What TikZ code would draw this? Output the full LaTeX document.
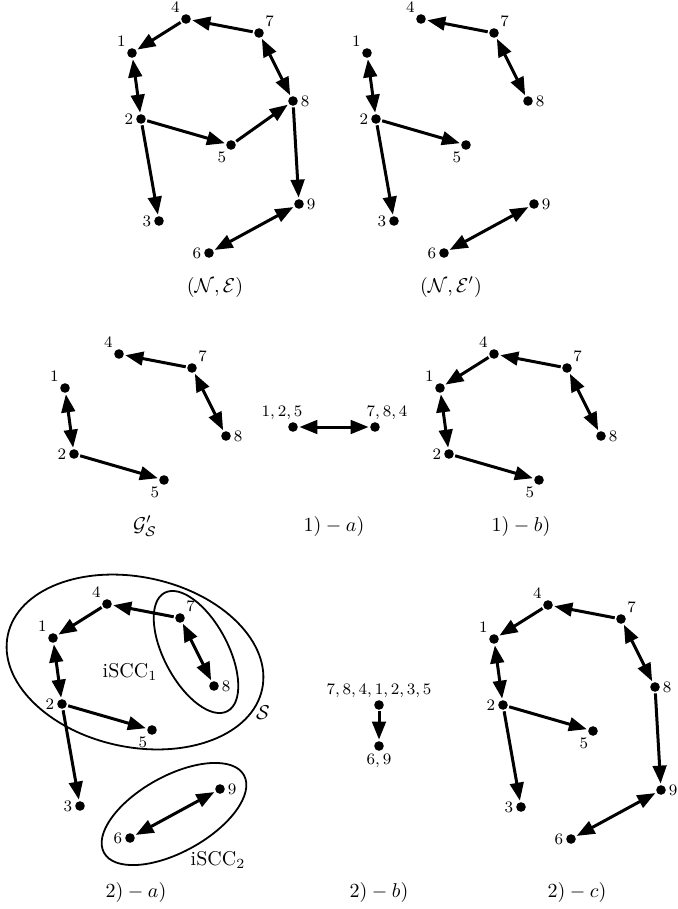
\documentclass[tikz,border=0pt]{standalone}
\usetikzlibrary{arrows.meta}
\tikzset{
  dot/.style={circle, fill=black, inner sep=0pt, minimum size=4.8pt},
  lbl/.style={font=\footnotesize, inner sep=1.1pt},
  ed/.style={line width=1.5pt, shorten >=0.6pt, shorten <=0.6pt},
  arr/.style={ed, -{Triangle[length=9pt,width=6.8pt]}},
  barr/.style={ed, {Triangle[length=9pt,width=6.8pt]}-{Triangle[length=9pt,width=6.8pt]}},
  captxt/.style={anchor=base, font=\normalsize, inner sep=0pt},
  grp/.style={line width=0.9pt},
  grplbl/.style={font=\normalsize, inner sep=0pt},
}
\def\allnodes{1/132/53/above left,2/141/119/left,3/159/221/left,4/186/19/above left,5/231/145/245,6/209/253/left,7/259/33/above right,8/293/101/right,9/299/204/right}
\def\somenodes{1/132/53/above left,2/141/119/left,4/186/19/above left,5/231/145/245,7/259/33/above right,8/293/101/right}
\newcommand\gnodes[4]{\foreach \i/\x/\y/\p in #4 {\node[dot,label={[lbl]\p:$\i$}] (#1\i) at ({\x+#2},{\y+#3}) {};}}
\begin{document}
\begin{tikzpicture}[x=0.5pt,y=-0.5pt]
\useasboundingbox (0,0) rectangle (677,909);
% panel A: (N,E)
\gnodes{a}{0}{0}{\allnodes}
\draw[arr] (a7) -- (a4);
\draw[arr] (a4) -- (a1);
\draw[barr] (a1) -- (a2);
\draw[barr] (a7) -- (a8);
\draw[arr] (a2) -- (a5);
\draw[arr] (a5) -- (a8);
\draw[arr] (a2) -- (a3);
\draw[arr] (a8) -- (a9);
\draw[barr] (a6) -- (a9);
\node[captxt] (c1) at (215,292) {$(\mathcal{N},\mathcal{E})$};
% panel B: (N,E')
\gnodes{b}{235}{0}{\allnodes}
\draw[arr] (b7) -- (b4);
\draw[barr] (b1) -- (b2);
\draw[barr] (b7) -- (b8);
\draw[arr] (b2) -- (b5);
\draw[arr] (b2) -- (b3);
\draw[barr] (b6) -- (b9);
\node[captxt] (c2) at (451,292) {$(\mathcal{N},\mathcal{E}')$};
% panel C: G'_S
\gnodes{c}{-67}{335}{\somenodes}
\draw[arr] (c7) -- (c4);
\draw[barr] (c1) -- (c2);
\draw[barr] (c7) -- (c8);
\draw[arr] (c2) -- (c5);
\node[captxt] (c3) at (145,531) {$\mathcal{G}'_{\mathcal{S}}$};
% panel 1)-a)
\node[dot,label={[lbl,xshift=-5.5pt]above:$1,2,5$}] (g1) at (293,427) {};
\node[dot,label={[lbl,xshift=6pt]above:$7,8,4$}] (g2) at (375,427) {};
\draw[barr] (g1) -- (g2);
\node[captxt] (c4) at (334,531) {$1)-a)$};
% panel D: 1)-b)
\gnodes{d}{308}{335}{\somenodes}
\draw[arr] (d7) -- (d4);
\draw[arr] (d4) -- (d1);
\draw[barr] (d1) -- (d2);
\draw[barr] (d7) -- (d8);
\draw[arr] (d2) -- (d5);
\node[captxt] (c5) at (521,531) {$1)-b)$};
% panel E: 2)-a)
\gnodes{e}{-79}{585}{\allnodes}
\draw[arr] (e7) -- (e4);
\draw[arr] (e4) -- (e1);
\draw[barr] (e1) -- (e2);
\draw[barr] (e7) -- (e8);
\draw[arr] (e2) -- (e5);
\draw[arr] (e2) -- (e3);
\draw[barr] (e6) -- (e9);
\draw[grp, rotate around={-12:(135,662)}] (135,662) ellipse [x radius=130, y radius=85];
\draw[grp, rotate around={-62:(196,652)}] (196,652) ellipse [x radius=67, y radius=32];
\draw[grp, rotate around={29:(174,814)}] (174,814) ellipse [x radius=80, y radius=38];
\node[grplbl] (s1) at (130,672) {iSCC$_1$};
\node[grplbl] (s0) at (263,713) {$\mathcal{S}$};
\node[grplbl] (s2) at (218,860) {iSCC$_2$};
\node[captxt] (c6) at (136,897) {$2)-a)$};
% panel 2)-b)
\node[dot,label={[lbl]above:$7,8,4,1,2,3,5$}] (h1) at (379,705) {};
\node[dot,label={[lbl]below:$6,9$}] (h2) at (379,746) {};
\draw[arr] (h1) -- (h2);
\node[captxt] (c7) at (379,897) {$2)-b)$};
% panel F: 2)-c)
\gnodes{f}{362}{586}{\allnodes}
\draw[arr] (f7) -- (f4);
\draw[arr] (f4) -- (f1);
\draw[barr] (f1) -- (f2);
\draw[barr] (f7) -- (f8);
\draw[arr] (f2) -- (f5);
\draw[arr] (f2) -- (f3);
\draw[arr] (f8) -- (f9);
\draw[barr] (f6) -- (f9);
\node[captxt] (c8) at (577,897) {$2)-c)$};
\end{tikzpicture}
\end{document}
